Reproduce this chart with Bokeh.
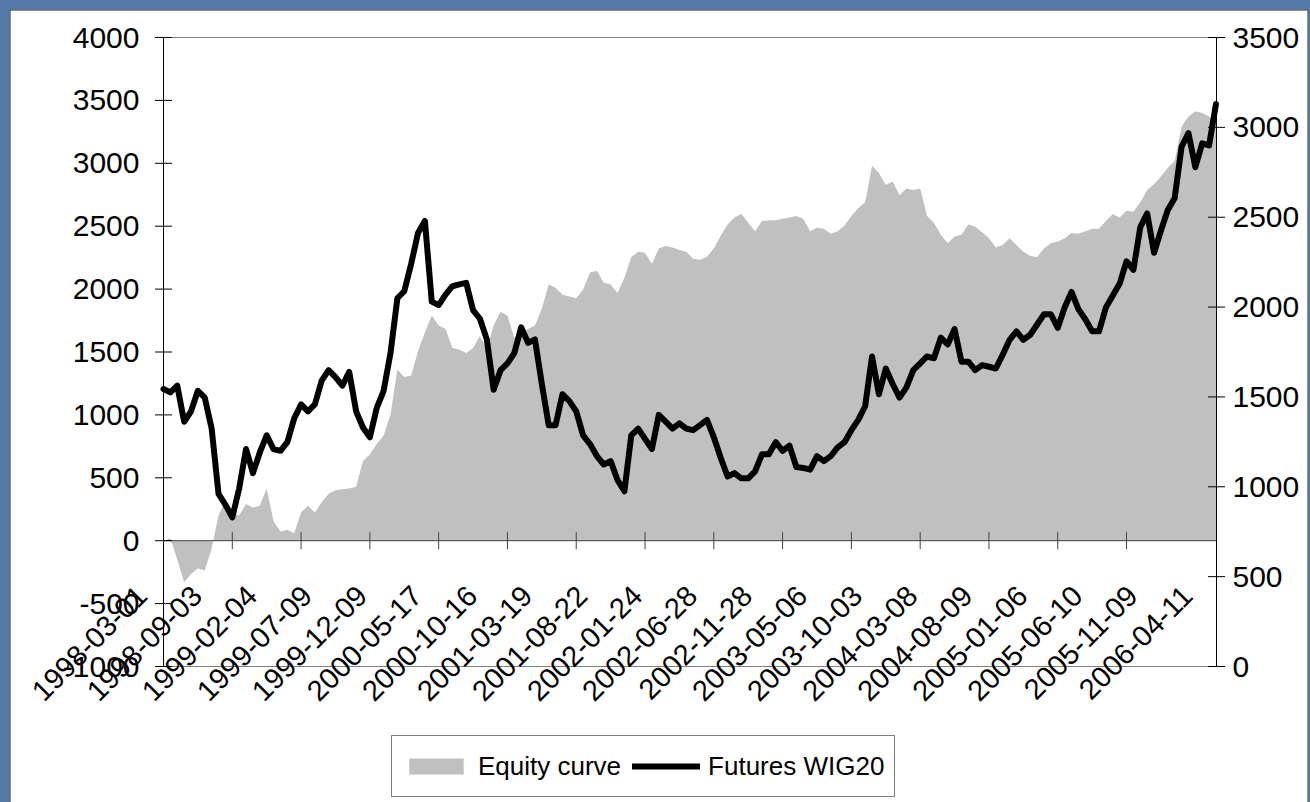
import math
import numpy as np
from bokeh.plotting import figure
from bokeh.models import Range1d, LabelSet, ColumnDataSource, Legend, LegendItem
from bokeh.embed import file_html
from bokeh.resources import INLINE
from bokeh.core.properties import value

FONT = "Liberation Sans"

# ---------------- data ----------------
date_labels = ["1998-03-01", "1998-09-03", "1999-02-04", "1999-07-09", "1999-12-09",
               "2000-05-17", "2000-10-16", "2001-03-19", "2001-08-22", "2002-01-24",
               "2002-06-28", "2002-11-28", "2003-05-06", "2003-10-03", "2004-03-08",
               "2004-08-09", "2005-01-06", "2005-06-10", "2005-11-09", "2006-04-11"]
n_days = 1990          # trading days on the category axis
label_every = 104      # a date label every 104 trading days
tick_every = 130       # a tick mark every 130 trading days
sample_every = 13      # values below are read every 13 trading days

futures_wig20 = [
    1544, 1525, 1563, 1362, 1420, 1534, 1496, 1324, 960, 900,
    830, 990, 1210, 1076, 1191, 1286, 1210, 1200, 1248, 1381,
    1458, 1420, 1458, 1591, 1649, 1610, 1563, 1639, 1420, 1330,
    1275,
    1439, 1534, 1744, 2049, 2088, 2240, 2412, 2479, 2030,
    2011, 2069, 2116, 2126, 2135, 1983, 1935, 1820, 1540, 1649,
    1687, 1744, 1887, 1801, 1820, 1572, 1343, 1343, 1515, 1477,
    1420, 1286,
    1238, 1171, 1124, 1143, 1038, 975, 1286, 1324,
    1267, 1210, 1400, 1362, 1324, 1353, 1324, 1315, 1343, 1372,
    1276, 1162, 1057, 1076, 1047, 1047, 1086, 1181, 1181, 1248,
    1200, 1229, 1110,
    1105, 1095, 1171, 1143, 1171, 1219, 1248,
    1315, 1372, 1448, 1725, 1515, 1658, 1572, 1496, 1553, 1649,
    1687, 1725, 1715, 1830, 1792, 1878, 1696, 1696, 1649, 1677,
    1668, 1658, 1735,
    1818, 1865, 1818, 1846, 1903, 1960, 1960,
    1884, 1998, 2084, 1989, 1932, 1865, 1865, 1998, 2065, 2131,
    2255, 2207, 2445, 2521, 2302, 2426, 2540, 2607, 2892, 2968,
    2778, 2911, 2900, 3130,
]

equity_curve = [
    0, 20, -150, -330, -265, -220, -236, -60, 200, 319,
    220, 200, 292, 264, 278, 414, 155, 74, 87, 60,
    224, 278, 224, 305, 373, 401, 409, 414, 428, 633,
    687,
    769, 837, 1001, 1361, 1301, 1314, 1505, 1655, 1791,
    1710, 1682, 1532, 1519, 1492, 1532, 1628, 1519, 1710, 1819,
    1791, 1614, 1655, 1682, 1710, 1846, 2037, 2010, 1955, 1941,
    1928, 1996,
    2132, 2146, 2050, 2037, 1969, 2091, 2255, 2296,
    2288, 2201, 2323, 2342, 2331, 2310, 2296, 2241, 2233, 2255,
    2323, 2424, 2514, 2569, 2596, 2528, 2459, 2541, 2547, 2547,
    2560, 2569, 2582,
    2560, 2459, 2487, 2479, 2440, 2459, 2506,
    2582, 2645, 2691, 2980, 2923, 2828, 2855, 2746, 2800, 2787,
    2800, 2582, 2528, 2432, 2364, 2419, 2432, 2514, 2495, 2451,
    2405, 2331, 2350,
    2405, 2350, 2296, 2263, 2255, 2323, 2364,
    2378, 2405, 2446, 2440, 2459, 2479, 2479, 2541, 2596, 2569,
    2623, 2615, 2691, 2787, 2833, 2896, 2964, 3018, 3291, 3373,
    3414, 3400, 3373, 3318,
]

left_ticks = [-1000, -500, 0, 500, 1000, 1500, 2000, 2500, 3000, 3500, 4000]
left_tick_labels = ["-1000", "-500", "0", "500", "1000", "1500", "2000",
                    "2500", "3000", "3500", "4000"]
right_ticks = [0, 500, 1000, 1500, 2000, 2500, 3000, 3500]
right_tick_labels = ["0", "500", "1000", "1500", "2000", "2500", "3000", "3500"]

series_names = ["Equity curve", "Futures WIG20"]

# ---------------- layout (figure pixels) ----------------
W, H = 1299, 793
AX_LEFT, AX_RIGHT = 154, 1207        # left / right value axes
AX_TOP, AX_BOTTOM = 28, 657          # 4000 / -1000 of the left scale

L_MIN, L_MAX = left_ticks[0], left_ticks[-1]
R_MIN, R_MAX = right_ticks[0], right_ticks[-1]
px_per_day = (AX_RIGHT - AX_LEFT) / n_days
px_per_left = (AX_BOTTOM - AX_TOP) / (L_MAX - L_MIN)
r_per_l = (R_MAX - R_MIN) / (L_MAX - L_MIN)

x_low = -AX_LEFT / px_per_day
x_high = n_days + (W - AX_RIGHT) / px_per_day
y_high = L_MAX + AX_TOP / px_per_left
y_low = L_MIN - (H - AX_BOTTOM) / px_per_left
r_low = R_MIN + (y_low - L_MIN) * r_per_l
r_high = R_MIN + (y_high - L_MIN) * r_per_l

LABEL_SHIFT = -41      # Excel draws the rotated labels a little left of their category
day = np.arange(len(futures_wig20)) * sample_every
tick_days = list(range(0, n_days - tick_every // 2, tick_every))
label_days = [i * label_every + LABEL_SHIFT for i in range(len(date_labels))]

# ---------------- figure ----------------
p = figure(width=W, height=H, output_backend="svg", toolbar_location=None,
           title=None, x_range=Range1d(x_low, x_high), y_range=Range1d(y_low, y_high),
           x_axis_location=None, y_axis_location=None,
           min_border=0, min_border_left=0, min_border_right=0,
           min_border_top=0, min_border_bottom=0,
           background_fill_color="white", border_fill_color="white")
p.extra_y_ranges = {"wig": Range1d(r_low, r_high)}
p.grid.visible = False
p.outline_line_color = None

# thin dark edge of the chart area (left, top, right)
p.segment(x0=[x_low, x_low, x_high], y0=[y_low, y_high, y_high],
          x1=[x_low, x_high, x_high], y1=[y_high, y_high, y_low],
          line_color="#1c2430", line_width=2)

area = p.varea(x=day, y1=0, y2=equity_curve, fill_color="#c0c0c0")
line = p.line(x=day, y=futures_wig20, y_range_name="wig", line_color="black",
              line_width=6, line_join="round", line_cap="round")

# plot-area border (top and bottom, grey)
p.segment(x0=[0, 0], y0=[L_MAX, L_MIN], x1=[n_days, n_days], y1=[L_MAX, L_MIN],
          line_color="#808080", line_width=1)

# category axis crossing at zero of the left scale
p.segment(x0=[0], y0=[0], x1=[n_days], y1=[0], line_color="#404040", line_width=1)
p.scatter(x=tick_days, y=0, marker="dash", size=17, angle=math.pi / 2,
          line_color="#404040", line_width=1)
lab_src = ColumnDataSource(dict(x=label_days, y=[0] * len(label_days), text=date_labels))
p.add_layout(LabelSet(x="x", y="y", text="text", source=lab_src, angle=math.pi / 4,
                      text_align="right", text_baseline="middle",
                      y_offset=-50, text_font=value(FONT), text_font_size="29px",
                      text_color="black"))

# left value axis
p.segment(x0=[0], y0=[L_MIN], x1=[0], y1=[L_MAX], line_color="black", line_width=1)
p.scatter(x=0, y=left_ticks, marker="dash", size=17, line_color="black", line_width=1)
left_src = ColumnDataSource(dict(x=[0] * len(left_ticks), y=left_ticks, text=left_tick_labels))
p.add_layout(LabelSet(x="x", y="y", text="text", source=left_src,
                      text_align="right", text_baseline="middle", x_offset=-24,
                      text_font=value(FONT), text_font_size="30px", text_color="black"))

# right value axis (Futures WIG20 scale)
p.segment(x0=[n_days], y0=[L_MIN], x1=[n_days], y1=[L_MAX], line_color="black", line_width=1)
p.scatter(x=n_days, y=right_ticks, y_range_name="wig", marker="dash", size=17,
          line_color="black", line_width=1)
right_src = ColumnDataSource(dict(x=[n_days] * len(right_ticks), y=right_ticks,
                                  text=right_tick_labels))
p.add_layout(LabelSet(x="x", y="y", text="text", source=right_src, y_range_name="wig",
                      text_align="left", text_baseline="middle", x_offset=16,
                      text_font=value(FONT), text_font_size="30px", text_color="black"))

legend = Legend(items=[LegendItem(label=series_names[0], renderers=[area]),
                       LegendItem(label=series_names[1], renderers=[line])],
                orientation="horizontal", location=(382, H - 788),
                border_line_color="black", border_line_width=1,
                background_fill_color="white", background_fill_alpha=1,
                label_text_font=FONT, label_text_font_size="26px",
                label_text_color="black",
                glyph_width=68, glyph_height=20, label_height=40,
                label_standoff=8, spacing=11, padding=10, margin=0)
p.add_layout(legend)

try:
    from bokeh.models import GlobalInlineStyleSheet
    p.stylesheets = [GlobalInlineStyleSheet(css=(
        "html{background:#5478a8;}"
        "body{padding:9px 0 0 9px !important;}"
    ))]
except Exception:
    pass

open("out.html", "w").write(file_html(p, INLINE))
